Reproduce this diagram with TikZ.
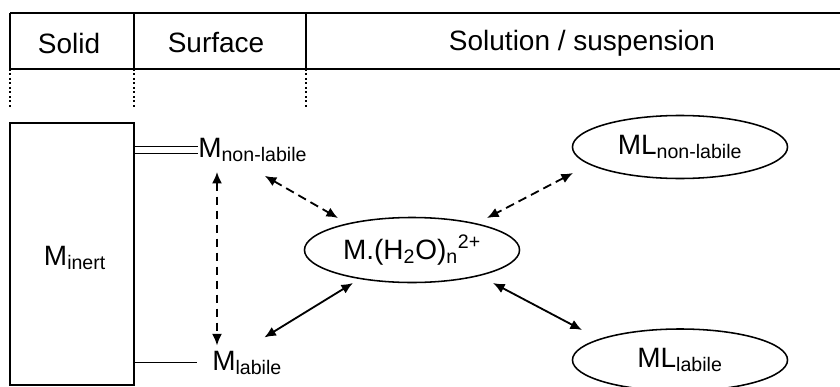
\documentclass[tikz,border=0pt]{standalone}
\usepackage{fontspec}
\setmainfont{Liberation Sans}
\usetikzlibrary{shapes.geometric,arrows.meta,calc}

\tikzset{
        blob/.style={ellipse,draw,line width=1.1pt,minimum width=5.375cm,inner sep=0pt},
        species/.style={inner sep=0pt,anchor=base west},
        link/.style={line width=1.3pt,{Latex[length=2.9mm,width=2.5mm]}-{Latex[length=2.9mm,width=2.5mm]}},
        dashlink/.style={link,dash pattern=on 2.2mm off 1.3mm},
}

\begin{document}
\begin{tikzpicture}[x=0.025cm,y=-0.025cm,font=\fontsize{19.9}{24}\selectfont]
        \useasboundingbox (0,0) rectangle (840,387);
        \draw[line width=1.1pt] (10,13) -- (840,13) (10,69) -- (840,69);
        \foreach \x in {10,134,306} {
                \draw[line width=1.1pt] (\x,13) -- (\x,69);
                \draw[dotted,line width=1.2pt] (\x,69) -- (\x,107);
        }
        \node (solidhead) at (69,43) {Solid};
        \node (surfhead) at (216,43) {Surface};
        \node (solnhead) at (582,43) {Solution / suspension};

        \node[draw,line width=1.2pt,minimum width=3.1cm,minimum height=6.55cm] (minert) at (72,254) {};
        \node (minerttext) at ($(minert.center)+(3,4)$) {M\textsubscript{inert}};
        \node[species] (mnl) at (198,157) {M\textsubscript{non-labile}};
        \node[species] (mlab) at (212,370) {M\textsubscript{labile}};
        \node[blob,minimum height=1.625cm] (aq) at (412,250) {M.(H\textsubscript{2}O)\textsubscript{n}\textsuperscript{2+}};
        \node[blob,minimum height=1.575cm] (mlnl) at (680,147) {ML\textsubscript{non-labile}};
        \node[blob,minimum height=1.55cm] (mll) at (680,360) {ML\textsubscript{labile}};

        \draw[double,line width=0.7pt,double distance=1.55mm] (minert.east |- mnl.west) -- (mnl.west);
        \draw[line width=0.8pt,shorten >=0.37cm] (minert.east |- mlab.west) -- (mlab.west);

        \draw[dashlink] ($(mnl.south west)+(19,10)$) -- ($(mlab.north west)+(5,-5)$);
        \draw[dashlink] ($(mnl.south)+(12,14)$) -- ($(aq.center)+(-74,-32)$);
        \draw[dashlink] ($(mlnl.center)+(-107,26)$) -- ($(aq.center)+(75,-32)$);
        \draw[link] ($(mlab.north east)+(-18,-13)$) -- ($(aq.center)+(-59,33)$);
        \draw[link] ($(aq.center)+(81,33)$) -- ($(mll.center)+(-98,-30)$);
\end{tikzpicture}
\end{document}
